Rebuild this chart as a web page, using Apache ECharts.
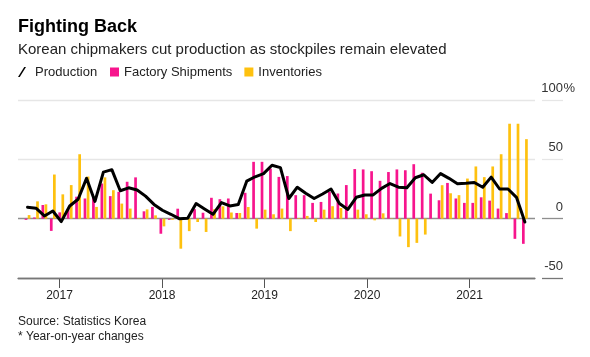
<!DOCTYPE html>
<html><head><meta charset="utf-8">
<script src="https://cdn.jsdelivr.net/npm/echarts@6/dist/echarts.min.js"></script>
<style>html,body{margin:0;padding:0;background:#fff}#c{width:590px;height:357px}</style>
</head><body><div id="c"></div>
<script>
// Monthly, Sep 2016 .. Aug 2021 (60 months)
const months = [];
for (let y = 2016, m = 9, k = 0; k < 60; k++) {
  months.push(y + '-' + String(m).padStart(2, '0'));
  m++; if (m > 12) { m = 1; y++; }
}
const production = [9.6, 8.8, 2.3, 6.5, -2.5, 10.7, 16.4, 34, 14.5, 39.2, 41.3, 23.5, 26, 24.2, 19, 12, 7.1, 3.7, 0, 0.3,
  12.7, 8.2, 3.7, 13.6, 10.7, 11.9, 31.6, 35.3, 38, 45, 43, 17, 26.5, 21.5, 17, 20.8, 25, 12.7, 7.8, 18,
  20, 20, 25.5, 29.6, 26.5, 26, 34.5, 37, 30.5, 38, 34, 29.5, 29.8, 30.5, 26.5, 35, 25, 25, 18, -2.8];
const shipments = [-1, 1, 11.5, -10.3, 5.3, 8, 18.5, 17, 18, 29.6, 19, 22.6, 31.1, 34.8, 6.2, 9.9, -12.7, -1, 8.4, 0.5,
  8, 5, 17.6, 16.4, 17, 4.8, 21.8, 47.9, 47.9, 42.2, 35.2, 35.9, 19.8, 19.8, 13.3, 14.1, 22.6, 21.2, 28.3, 41.8,
  41.5, 40, 31.9, 39.3, 41.5, 40.8, 45.9, 38.7, 21.1, 15.5, 30.1, 17, 13.3, 13.3, 18, 15.2, 8.5, 4.7, -17, -21.2];
const inventories = [3, 14.6, 12.1, 37.2, 20.5, 28.3, 54.3, 35.5, 9.9, 34.8, 24, 12.7, 8.5, 0.5, 7.8, 2.8, -6.5, -1, -25.3, -10.5,
  -2.8, -11.2, 8, 10.4, 5.2, 4.8, 9.8, -8.4, 7.6, 3.7, 8.5, -10.5, 0.5, 2.3, -2.8, 7.6, 10.5, 9, 0.3, 7.6,
  3.7, -1.4, 4.5, 0.3, -15, -24, -20.4, -13.4, 0, 28.2, 21.4, 19.8, 33.8, 44, 35, 44, 54.3, 80, 80, 67];
// year axis: first and last labelled year
const firstYear = 2017, lastYear = 2021;

const FONT = '"Liberation Sans", Arial, sans-serif';
const pink = '#f7158d', yellow = '#fec10f';
const pairs = arr => arr.map((v, i) => [i, v]);
const gridColors = ['#777', '#8f8f8f', '#e6e6e6', '#e6e6e6'];

const chart = echarts.init(document.getElementById('c'), null, {renderer: 'canvas'});
chart.setOption({
  animation: false,
  backgroundColor: '#fff',
  textStyle: {fontFamily: FONT},
  title: [
    {text: 'Fighting Back', left: 18, top: 18, padding: 0,
     textStyle: {fontSize: 18, fontWeight: 'bold', color: '#000', fontFamily: FONT, lineHeight: 18}},
    {text: 'Korean chipmakers cut production as stockpiles remain elevated', left: 18, top: 42, padding: 0,
     textStyle: {fontSize: 15, fontWeight: 'normal', color: '#222', fontFamily: FONT, lineHeight: 15}},
    {text: 'Source: Statistics Korea\n* Year-on-year changes', left: 18, top: 314, padding: 0,
     textStyle: {fontSize: 12, fontWeight: 'normal', color: '#222', fontFamily: FONT, lineHeight: 15}}
  ],
  legend: [
    {data: [{name: 'Production', icon: 'path://M0,11 L2,11 L9,0 L7,0 Z', itemStyle: {color: '#000'}}],
     left: 18, top: 65, padding: 0, itemWidth: 8, itemHeight: 11, selectedMode: false,
     textStyle: {fontSize: 13, color: '#222', fontFamily: FONT, lineHeight: 14, padding: [0, 0, 0, 4]}},
    {data: ['Factory Shipments', 'Inventories'], icon: 'rect',
     left: 110, top: 65, padding: 0, itemWidth: 9, itemHeight: 9, itemGap: 12, selectedMode: false,
     textStyle: {fontSize: 13, color: '#222', fontFamily: FONT, lineHeight: 14}}
  ],
  grid: [
    {left: 18, right: 55, top: 100, bottom: 79},
    {left: 542, right: 27, top: 100, bottom: 79},
    {left: 563.5, right: 20, top: 100, bottom: 79},
    // thin strip under the axis line that carries the year ticks and labels
    {left: 59.5, right: 120.5, top: 278, bottom: 74}
  ],
  xAxis: [
    {type: 'value', gridIndex: 0, min: -1.13, max: 60.2, position: 'bottom',
     axisLine: {show: true, onZero: false, lineStyle: {color: '#777', width: 1.3}},
     axisTick: {show: false}, axisLabel: {show: false}, splitLine: {show: false}},
    {type: 'value', gridIndex: 1, min: 0, max: 1, show: false},
    {type: 'value', gridIndex: 2, min: 0, max: 1, show: false},
    {type: 'value', gridIndex: 3, min: firstYear, max: lastYear, interval: 1, position: 'bottom',
     axisLine: {show: false, onZero: false},
     axisTick: {show: true, length: 5, lineStyle: {color: '#555', width: 1}},
     axisLabel: {margin: 7, fontSize: 12, color: '#222', fontFamily: FONT, formatter: v => String(v)},
     splitLine: {show: true, showMinLine: true, showMaxLine: true, lineStyle: {color: '#555', width: 1}}}
  ],
  yAxis: [
    {type: 'value', gridIndex: 0, min: -50, max: 100, interval: 50, position: 'right',
     axisLine: {show: false, onZero: false}, axisTick: {show: false}, axisLabel: {show: false},
     splitLine: {show: true, lineStyle: {color: gridColors, width: 1.3}}},
    {type: 'value', gridIndex: 1, min: -50, max: 100, interval: 50, position: 'right',
     axisLine: {show: false, onZero: false}, axisTick: {show: false},
     splitLine: {show: true, lineStyle: {color: gridColors, width: 1.3}},
     axisLabel: {inside: true, margin: 0, verticalAlign: 'bottom', align: 'right', padding: [0, 0, 5, 0],
       fontSize: 13, color: '#333', fontFamily: FONT, lineHeight: 13, formatter: v => String(v)}},
    {type: 'value', gridIndex: 2, min: -50, max: 100, interval: 50, position: 'left',
     axisLine: {show: false, onZero: false}, axisTick: {show: false}, splitLine: {show: false},
     axisLabel: {inside: true, margin: 0, verticalAlign: 'bottom', align: 'left', padding: [0, 0, 5, 0],
       fontSize: 13, color: '#333', fontFamily: FONT, lineHeight: 13, formatter: v => v === 100 ? '%' : ''}},
    {type: 'value', gridIndex: 3, min: 0, max: 1, show: false}
  ],
  series: [
    {name: 'Factory Shipments', type: 'bar', xAxisIndex: 0, yAxisIndex: 0, data: pairs(shipments),
     barWidth: 2.7, barGap: '15%', itemStyle: {color: pink}},
    {name: 'Inventories', type: 'bar', xAxisIndex: 0, yAxisIndex: 0, data: pairs(inventories),
     barWidth: 2.7, barGap: '15%', itemStyle: {color: yellow}},
    {name: 'Production', type: 'line', xAxisIndex: 0, yAxisIndex: 0, data: pairs(production),
     showSymbol: false, symbol: 'none', itemStyle: {color: '#000'},
     lineStyle: {color: '#000', width: 3, join: 'round', cap: 'round'}, z: 5}
  ]
});
</script>
</body></html>
